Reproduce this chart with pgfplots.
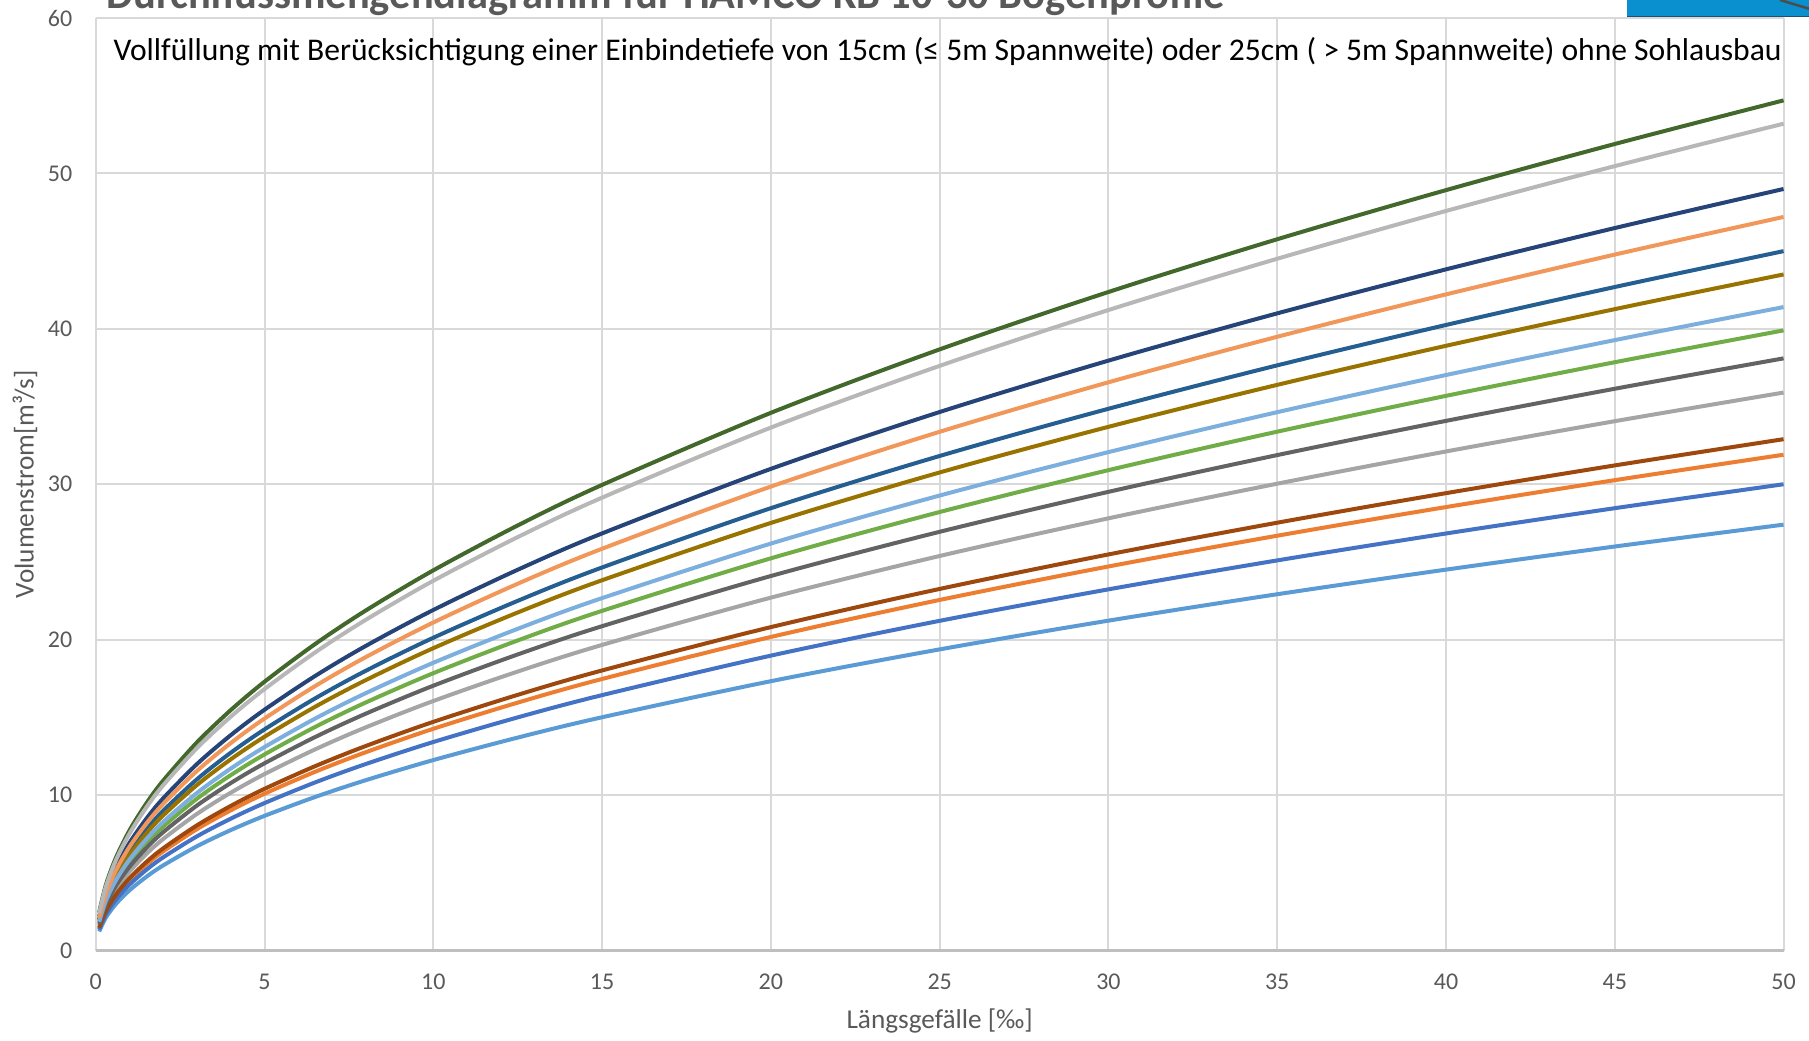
\documentclass[border=0pt]{standalone}
\usepackage{pgfplots}
\pgfplotsset{compat=1.18}
\usepackage{pgfplotstable}
\usepackage{fontspec}
\setmainfont{Carlito}
\definecolor{cA}{HTML}{43682B}
\definecolor{cB}{HTML}{B7B7B7}
\definecolor{cC}{HTML}{264478}
\definecolor{cD}{HTML}{F1975A}
\definecolor{cE}{HTML}{255E91}
\definecolor{cF}{HTML}{997300}
\definecolor{cG}{HTML}{7CAFDD}
\definecolor{cH}{HTML}{70AD47}
\definecolor{cI}{HTML}{636363}
\definecolor{cJ}{HTML}{A5A5A5}
\definecolor{cK}{HTML}{9E480E}
\definecolor{cL}{HTML}{ED7D31}
\definecolor{cM}{HTML}{4472C4}
\definecolor{cN}{HTML}{5B9BD5}
\definecolor{gridgray}{HTML}{D9D9D9}
\definecolor{axisgray}{HTML}{BFBFBF}
\definecolor{txtgray}{HTML}{595959}
\definecolor{logoblue}{HTML}{0A8FCF}
\definecolor{logodark}{HTML}{1F4E79}

\pgfplotstableread{
x A B C D E F G H I J K L M N
0.1 2.446 2.379 2.191 2.111 2.012 1.945 1.851 1.784 1.704 1.605 1.471 1.427 1.342 1.225
0.3 4.237 4.121 3.796 3.656 3.486 3.370 3.207 3.091 2.951 2.781 2.548 2.471 2.324 2.122
0.6 5.992 5.828 5.367 5.170 4.929 4.765 4.535 4.371 4.173 3.932 3.604 3.494 3.286 3.001
1 7.736 7.524 6.930 6.675 6.364 6.152 5.855 5.643 5.388 5.077 4.653 4.511 4.243 3.875
1.5 9.475 9.215 8.487 8.176 7.794 7.535 7.171 6.911 6.599 6.218 5.699 5.525 5.196 4.746
2 10.94 10.64 9.80 9.44 9.00 8.70 8.28 7.98 7.62 7.18 6.58 6.38 6.00 5.48
3 13.399 13.031 12.003 11.562 11.023 10.655 10.141 9.774 9.333 8.794 8.059 7.814 7.349 6.712
4 15.471 15.047 13.859 13.350 12.728 12.304 11.710 11.285 10.776 10.154 9.305 9.023 8.485 7.750
5 17.298 16.823 15.495 14.926 14.230 13.756 13.092 12.618 12.048 11.353 10.404 10.088 9.487 8.665
6.5 19.723 19.182 17.667 17.018 16.225 15.684 14.927 14.386 13.737 12.944 11.862 11.502 10.817 9.879
8 21.88 21.28 19.60 18.88 18.00 17.40 16.56 15.96 15.24 14.36 13.16 12.76 12.00 10.96
10 24.462 23.792 21.913 21.108 20.124 19.454 18.514 17.844 17.039 16.055 14.713 14.266 13.416 12.254
12.5 27.35 26.60 24.50 23.60 22.50 21.75 20.70 19.95 19.05 17.95 16.45 15.95 15.00 13.70
15 29.960 29.139 26.838 25.852 24.647 23.826 22.676 21.854 20.868 19.663 18.020 17.472 16.432 15.008
20 34.596 33.647 30.991 29.852 28.461 27.512 26.184 25.235 24.097 22.705 20.808 20.175 18.974 17.329
25 38.679 37.618 34.648 33.376 31.820 30.759 29.274 28.214 26.941 25.385 23.264 22.557 21.213 19.375
30 42.371 41.209 37.955 36.561 34.857 33.695 32.068 30.907 29.512 27.808 25.484 24.710 23.238 21.224
35 45.765 44.510 40.996 39.490 37.650 36.395 34.638 33.383 31.877 30.036 27.526 26.689 25.100 22.924
40 48.925 47.584 43.827 42.217 40.249 38.908 37.029 35.688 34.078 32.110 29.427 28.532 26.833 24.507
45 51.893 50.470 46.485 44.778 42.691 41.268 39.275 37.852 36.145 34.058 31.212 30.263 28.460 25.994
50 54.7 53.2 49.0 47.2 45.0 43.5 41.4 39.9 38.1 35.9 32.9 31.9 30.0 27.4
}\data

\begin{document}
\begin{tikzpicture}
\useasboundingbox (0,0) rectangle (723.6pt,416pt);
\clip (0,0) rectangle (723.6pt,416pt);
\begin{axis}[
  at={(38.32pt,35.8pt)}, anchor=south west,
  scale only axis, width=675.1pt, height=373.0pt,
  xmin=0, xmax=50, ymin=0, ymax=60,
  xtick={0,5,...,50}, ytick={0,10,...,60},
  grid=major,
  major grid style={draw=gridgray, line width=0.8pt},
  axis line style={draw=none},
  major tick length=0pt,
  tick label style={font=\fontsize{9.6pt}{11pt}\selectfont, text=txtgray},
  /pgf/number format/assume math mode=true,
  xticklabel style={anchor=base, inner sep=0pt, yshift=-15.5pt},
  yticklabel style={anchor=east, inner sep=0pt, xshift=-9.2pt},
  xlabel={Längsgefälle [‰]},
  ylabel={Volumenstrom[m³/s]},
  every axis x label/.style={at={(axis description cs:0.5,0)}, anchor=base, yshift=-31.1pt, font=\fontsize{10.9pt}{13pt}\selectfont, text=txtgray},
  every axis y label/.style={at={(axis description cs:0,0.5)}, anchor=center, rotate=90, yshift=28.3pt, font=\fontsize{10.9pt}{13pt}\selectfont, text=txtgray},
  every axis plot/.append style={line width=1.6pt, no markers, smooth},
  clip=false,
]
\addplot[cN] table[x=x,y=N] {\data};
\addplot[cL] table[x=x,y=L] {\data};
\addplot[cJ] table[x=x,y=J] {\data};
\addplot[cM] table[x=x,y=M] {\data};
\addplot[cH] table[x=x,y=H] {\data};
\addplot[cE] table[x=x,y=E] {\data};
\addplot[cK] table[x=x,y=K] {\data};
\addplot[cI] table[x=x,y=I] {\data};
\addplot[cF] table[x=x,y=F] {\data};
\addplot[cC] table[x=x,y=C] {\data};
\addplot[cA] table[x=x,y=A] {\data};
\addplot[cG] table[x=x,y=G] {\data};
\addplot[cD] table[x=x,y=D] {\data};
\addplot[cB] table[x=x,y=B] {\data};
\draw[axisgray, line width=1.2pt] (axis cs:0,0) -- (axis cs:50,0);
\end{axis}
\node[anchor=base west, inner sep=0pt] at (45.2pt,391.6pt) {\fontsize{12.63pt}{14pt}\selectfont Vollfüllung mit Berücksichtigung einer Einbindetiefe von 15cm (≤ 5m Spannweite) oder 25cm ( > 5m Spannweite) ohne Sohlausbau};
\node[anchor=base west, inner sep=0pt, text=txtgray] at (42.4pt,412.4pt) {\fontsize{17pt}{20pt}\selectfont\bfseries Durchflussmengendiagramm für HAMCO KB 10-30 Bogenprofile};
\fill[logoblue] (650.8pt,409.2pt) rectangle (723.6pt,416pt);
\draw[logodark, line width=0.5pt] (650.8pt,409.4pt) -- (723.6pt,409.4pt);
\draw[black!70, line width=1pt] (712pt,416pt) -- (723.6pt,412.5pt);
\end{tikzpicture}
\end{document}
